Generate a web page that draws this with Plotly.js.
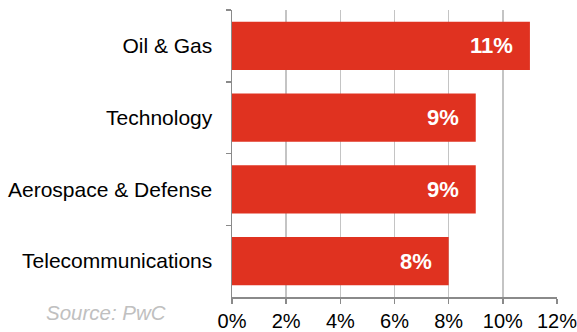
<!DOCTYPE html>
<html><head><meta charset="utf-8">
<script src="https://cdn.plot.ly/plotly-3.0.1.min.js"></script>
<style>body{margin:0}#c{width:577px;height:332px}</style>
</head><body><div id="c"></div>
<script>
const categories = ["Oil & Gas", "Technology", "Aerospace & Defense", "Telecommunications"];
const values = [11, 9, 9, 8];
const valueLabels = ["11%", "9%", "9%", "8%"];
const xTicks = [0, 2, 4, 6, 8, 10, 12];
const xTickLabels = ["0%", "2%", "4%", "6%", "8%", "10%", "12%"];

const font = "Arial, 'Liberation Sans', sans-serif";
const trace = {
  type: "bar", orientation: "h",
  x: values, y: categories,
  marker: {color: "#E03220"},
  hoverinfo: "none"
};
const annotations = values.map((v, i) => ({
  x: v, y: categories[i], xref: "x", yref: "y",
  text: "<b>" + valueLabels[i] + "</b>", showarrow: false,
  xanchor: "right", xshift: -15,
  font: {family: font, size: 22, color: "#ffffff"}
}));
annotations.push({
  xref: "paper", yref: "paper", x: -0.197, y: -0.055,
  xanchor: "right", yanchor: "middle",
  text: "<i>Source: PwC</i>", showarrow: false,
  font: {family: font, size: 20.5, color: "#c0c0c0"}
});
const layout = {
  width: 577, height: 332,
  margin: {l: 232, r: 20, t: 10, b: 35},
  paper_bgcolor: "#ffffff", plot_bgcolor: "#ffffff",
  bargap: 0.33,
  showlegend: false,
  font: {family: font, size: 20, color: "#000"},
  xaxis: {
    range: [0, 12], tickvals: xTicks, ticktext: xTickLabels,
    showgrid: true, gridcolor: "#c4c4c4", gridwidth: 1.5,
    showline: true, linecolor: "#8a8a8a", linewidth: 1.5,
    ticks: "outside", ticklen: 5, tickcolor: "#8a8a8a", tickwidth: 1.5,
    zeroline: false, fixedrange: true, automargin: false,
    ticklabeloverflow: "allow",
    tickfont: {family: font, size: 20, color: "#000"}
  },
  yaxis: {
    autorange: "reversed", type: "category",
    showline: true, linecolor: "#8a8a8a", linewidth: 1.5,
    ticks: "outside", ticklen: 5, tickcolor: "#8a8a8a", tickwidth: 1.5,
    tickson: "boundaries", showgrid: false, zeroline: false,
    ticklabelstandoff: 14, automargin: false,
    tickfont: {family: font, size: 21, color: "#000"}
  },
  annotations: annotations
};
Plotly.newPlot("c", [trace], layout, {staticPlot: true, displayModeBar: false});
</script></body></html>
